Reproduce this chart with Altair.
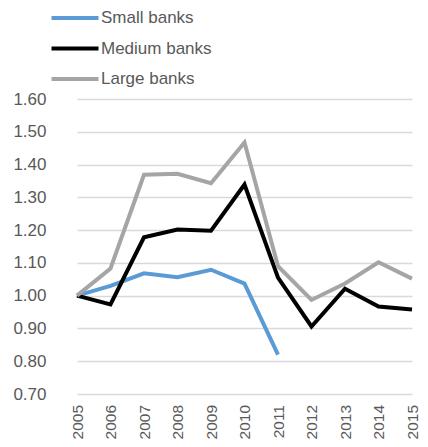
import altair as alt
import pandas as pd

years = [str(y) for y in range(2005, 2016)]
small = [1.00, 1.03, 1.068, 1.056, 1.079, 1.037, 0.82, None, None, None, None]
medium = [1.00, 0.973, 1.178, 1.202, 1.198, 1.339, 1.055, 0.906, 1.021, 0.967, 0.958]
large = [1.00, 1.083, 1.369, 1.372, 1.343, 1.467, 1.090, 0.987, 1.037, 1.102, 1.052]
series = ["Small banks", "Medium banks", "Large banks"]
colors = ["#5B9BD5", "#000000", "#A5A5A5"]
y_ticks = [0.7, 0.8, 0.9, 1.0, 1.1, 1.2, 1.3, 1.4, 1.5, 1.6]

rows = []
for name, vals in zip(series, [small, medium, large]):
    for yr, v in zip(years, vals):
        if v is not None:
            rows.append({"year": yr, "value": v, "series": name})
df = pd.DataFrame(rows)

FONT = "Liberation Sans"
TXT = "#595959"

chart = alt.Chart(df).mark_line(strokeWidth=4, strokeJoin="miter").encode(
    x=alt.X("year:N", sort=years, title=None,
            scale=alt.Scale(type="point", range=[18, 353], padding=0),
            axis=alt.Axis(labelAngle=-90, ticks=False, domain=False, grid=False,
                          labelPadding=10.5, labelFontSize=15.5, labelColor=TXT,
                          labelFont=FONT)),
    y=alt.Y("value:Q", title=None,
            scale=alt.Scale(domain=[0.7, 1.6], nice=False, zero=False),
            axis=alt.Axis(values=y_ticks, format=".2f", ticks=False, domain=False,
                          gridColor="#D9D9D9", gridWidth=1.5,
                          labelPadding=13, labelFontSize=17, labelColor=TXT,
                          labelFont=FONT)),
    color=alt.Color("series:N", sort=series,
                    scale=alt.Scale(domain=series, range=colors),
                    legend=alt.Legend(title=None, orient="none", legendX=7.5, legendY=-89.5,
                                      symbolType="M-4.7,0H4.7", symbolSize=100,
                                      symbolStrokeWidth=4, labelOffset=17.5,
                                      rowPadding=12.5, padding=0,
                                      labelFontSize=17, labelColor=TXT, labelFont=FONT)),
    order=alt.Order("series:N"),
).properties(
    width=361, height=295,
    autosize=alt.AutoSizeParams(type="none"),
    padding={"left": 51, "top": 91, "right": 0, "bottom": 45},
).configure_view(stroke=None)

chart.save("out.html", embed_options={"renderer": "svg", "actions": False})
